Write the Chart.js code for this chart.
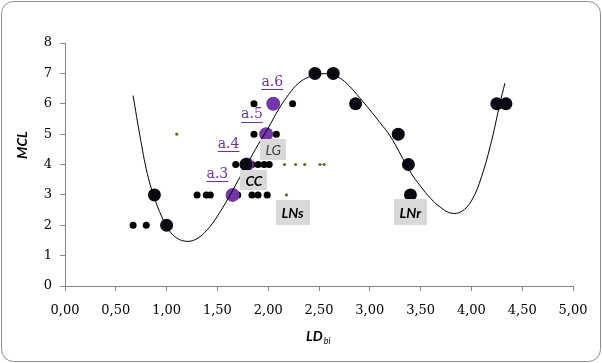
<!DOCTYPE html>
<html>
<head>
<meta charset="utf-8">
<script src="https://cdn.jsdelivr.net/npm/chart.js@4"></script>
<style>
  html, body { margin: 0; padding: 0; background: #fff; }
  #wrap { width: 602px; height: 363px; position: relative; }
</style>
</head>
<body>
<div id="wrap"><canvas id="c" width="602" height="363"></canvas></div>
<script>
// trendline
const curveX = [0.67, 0.74, 0.81, 0.88, 0.95, 1.02, 1.10, 1.20, 1.30, 1.40, 1.50, 1.60, 1.70, 1.80, 1.90, 2.00, 2.10, 2.20, 2.30, 2.40, 2.50, 2.60, 2.70, 2.80, 2.90, 3.00, 3.10, 3.20, 3.30, 3.40, 3.50, 3.60, 3.70, 3.80, 3.90, 4.00, 4.10, 4.20, 4.28, 4.33];
const curveY = [6.27, 4.90, 3.70, 2.90, 2.30, 1.85, 1.58, 1.47, 1.56, 1.85, 2.30, 2.85, 3.45, 4.05, 4.65, 5.20, 5.80, 6.30, 6.68, 6.88, 6.97, 6.98, 6.86, 6.58, 6.20, 5.80, 5.38, 4.94, 4.35, 3.75, 3.28, 2.88, 2.58, 2.40, 2.45, 2.80, 3.60, 4.80, 6.00, 6.68];

// big black points
const bigX = [0.88, 1.00, 1.78, 2.46, 2.64, 2.86, 3.28, 3.38, 3.40, 4.25, 4.34];
const bigY = [3, 2, 4, 7, 7, 6, 5, 4, 3, 6, 6];

// purple points a.3 - a.6
const purpleX = [1.65, 1.79, 1.98, 2.05];
const purpleY = [3, 4, 5, 6];
const purpleNames = ['a.3', 'a.4', 'a.5', 'a.6'];
const purpleNameX = [1.50, 1.61, 1.84, 2.04];
const purpleNameY = [3.68, 4.67, 5.64, 6.70];

// small black points
const smallX = [0.67, 0.80, 1.30, 1.39, 1.43, 1.62, 1.70, 1.84, 1.90, 1.99, 1.68, 1.84, 1.90, 1.96, 2.01, 1.86, 2.08, 1.86, 2.24];
const smallY = [2, 2, 3, 3, 3, 3, 3, 3, 3, 3, 4, 4, 4, 4, 4, 5, 5, 6, 6];

// tiny olive points
const oliveX = [1.10, 2.18, 2.16, 2.27, 2.36, 2.51, 2.55];
const oliveY = [5, 3, 4, 4, 4, 4, 4];

// grey boxed labels
const boxNames = ['LG', 'CC', 'LNs', 'LNr'];
const boxX = [2.05, 1.86, 2.24, 3.40];
const boxY = [4.48, 3.48, 2.41, 2.43];

const pts = (xs, ys) => xs.map((x, i) => ({ x: x, y: ys[i] }));

const decor = {
  id: 'decor',
  beforeDraw(chart) {
    const ctx = chart.ctx;
    ctx.save();
    ctx.fillStyle = '#fff';
    ctx.fillRect(0, 0, chart.width, chart.height);
    ctx.strokeStyle = '#8c8c8c';
    ctx.lineWidth = 1;
    ctx.beginPath();
    ctx.roundRect(1.5, 1.5, chart.width - 3, chart.height - 3, 12);
    ctx.stroke();
    ctx.restore();
  },
  afterDatasetsDraw(chart) {
    const ctx = chart.ctx;
    const xs = chart.scales.x, ys = chart.scales.y;
    ctx.save();
    // grey boxes
    const boxStyle = [
      { w: 26, h: 21, font: 'italic 14px Lato', color: '#404040' },
      { w: 27, h: 20, font: 'italic bold 14px Lato', color: '#000' },
      { w: 34, h: 25, font: 'italic bold 14px Lato', color: '#000' },
      { w: 33, h: 26, font: 'italic bold 14px Lato', color: '#000' }
    ];
    boxNames.forEach((t, i) => {
      const cx = xs.getPixelForValue(boxX[i]);
      const cy = ys.getPixelForValue(boxY[i]);
      const s = boxStyle[i];
      ctx.fillStyle = '#d9d9d9';
      ctx.fillRect(Math.round(cx - s.w / 2), Math.round(cy - s.h / 2), s.w, s.h);
      ctx.fillStyle = s.color;
      ctx.font = s.font;
      ctx.textAlign = 'center';
      ctx.textBaseline = 'middle';
      ctx.fillText(t, cx, cy + 1);
    });
    // purple underlined names
    ctx.font = '14px "DejaVu Serif"';
    ctx.fillStyle = '#7030a0';
    ctx.strokeStyle = '#7030a0';
    ctx.lineWidth = 1;
    purpleNames.forEach((t, i) => {
      const cx = xs.getPixelForValue(purpleNameX[i]);
      const cy = ys.getPixelForValue(purpleNameY[i]);
      ctx.textAlign = 'center';
      ctx.textBaseline = 'middle';
      ctx.fillText(t, cx, cy);
      const w = ctx.measureText(t).width;
      ctx.beginPath();
      ctx.moveTo(cx - w / 2, Math.round(cy + 7) + 0.5);
      ctx.lineTo(cx + w / 2, Math.round(cy + 7) + 0.5);
      ctx.stroke();
    });
    // axis titles
    ctx.fillStyle = '#000';
    ctx.font = 'italic bold 14px Lato';
    ctx.textAlign = 'center';
    ctx.textBaseline = 'middle';
    ctx.save();
    ctx.translate(22, 145);
    ctx.rotate(-Math.PI / 2);
    ctx.fillText('MCL', 0, 0);
    ctx.restore();
    ctx.textAlign = 'left';
    ctx.fillText('LD', 306, 336);
    const lw = ctx.measureText('LD').width;
    ctx.font = 'italic 9px Lato';
    ctx.fillText('bi', 306 + lw + 1, 341);
    ctx.restore();
  }
};

new Chart(document.getElementById('c'), {
  type: 'scatter',
  data: {
    datasets: [
      {
        type: 'line',
        data: pts(curveX, curveY),
        borderColor: '#000',
        borderWidth: 1,
        pointRadius: 0,
        tension: 0.4,
        fill: false,
        order: 0
      },
      {
        data: pts(bigX, bigY),
        backgroundColor: '#0a0a14',
        borderWidth: 0,
        pointRadius: 6.5,
        order: 1
      },
      {
        data: pts(purpleX, purpleY),
        backgroundColor: '#7436a8',
        borderWidth: 0,
        pointRadius: 7,
        order: 2
      },
      {
        data: pts(smallX, smallY),
        backgroundColor: '#000',
        borderWidth: 0,
        pointRadius: 3.5,
        order: 3
      },
      {
        data: pts(oliveX, oliveY),
        backgroundColor: '#6e6a20',
        borderWidth: 0,
        pointRadius: 1.6,
        order: 4
      }
    ]
  },
  options: {
    responsive: false,
    animation: false,
    layout: { padding: { top: 43, right: 29, left: 0, bottom: 0 } },
    plugins: {
      legend: { display: false },
      tooltip: { enabled: false }
    },
    scales: {
      x: {
        type: 'linear',
        min: 0,
        max: 5,
        afterFit: s => { s.height = 77; },
        grid: { drawOnChartArea: false, drawTicks: true, tickLength: 5, color: '#868686' },
        border: { color: '#868686' },
        ticks: {
          stepSize: 0.5,
          padding: 12,
          color: '#000',
          font: { family: 'DejaVu Serif', size: 13 },
          maxRotation: 0,
          callback: v => v.toFixed(2).replace('.', ',')
        }
      },
      y: {
        min: 0,
        max: 8,
        afterFit: s => { s.width = 65; },
        grid: { drawOnChartArea: false, drawTicks: true, tickLength: 5, color: '#868686' },
        border: { color: '#868686' },
        ticks: {
          stepSize: 1,
          padding: 8,
          color: '#000',
          font: { family: 'DejaVu Serif', size: 13 }
        }
      }
    }
  },
  plugins: [decor]
});
</script>
</body>
</html>
